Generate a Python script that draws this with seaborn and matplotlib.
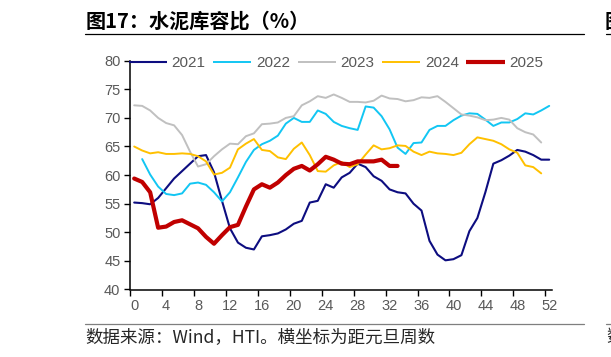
import numpy as np
import pandas as pd
import matplotlib
matplotlib.use("Agg")
import matplotlib.pyplot as plt
from matplotlib.lines import Line2D
import seaborn as sns

# ---------------- data ----------------
series_names = ["2021", "2022", "2023", "2024", "2025"]
tick_labels = [str(v) for v in range(0, 53, 4)]

y2021 = [55.2, 55.1, 54.9, 56.0, 57.7, 59.4, 60.7, 62.0, 63.3, 63.5,
         60.5, 55.5, 50.7, 48.2, 47.3, 47.0, 49.3, 49.5, 49.8, 50.5,
         51.5, 52.0, 55.2, 55.5, 58.4, 57.8, 59.6, 60.4, 62.0, 61.4,
         59.8, 59.0, 57.5, 57.0, 56.8, 55.0, 53.8, 48.5, 46.1, 45.1,
         45.3, 46.0, 50.2, 52.5, 57.0, 62.0, 62.6, 63.4, 64.4, 64.1,
         63.5, 62.7, 62.7]
y2022 = [np.nan, 62.8, 60.1, 58.0, 56.7, 56.5, 56.8, 58.5, 58.7, 58.3,
         57.0, 55.4, 57.0, 59.6, 62.3, 64.4, 65.4, 66.0, 66.9, 69.0,
         70.0, 69.3, 69.3, 71.3, 70.7, 69.3, 68.6, 68.2, 67.9, 72.0,
         71.8, 70.3, 68.0, 64.8, 63.7, 65.6, 65.7, 67.9, 68.6, 68.6,
         69.6, 70.4, 70.8, 70.7, 69.7, 68.6, 69.2, 69.2, 69.8, 70.8,
         70.6, 71.3, 72.1]
y2023 = [72.2, 72.1, 71.3, 70.0, 69.1, 68.7, 67.0, 64.1, 61.5, 61.9,
         63.3, 64.5, 65.5, 65.4, 66.8, 67.3, 68.9, 69.0, 69.2, 70.0,
         70.3, 72.2, 72.9, 73.8, 73.5, 74.1, 73.5, 72.8, 72.8, 72.7,
         73.0, 73.9, 73.4, 73.3, 72.9, 73.1, 73.6, 73.5, 73.8, 72.8,
         71.7, 70.6, 70.4, 70.1, 69.6, 69.7, 70.0, 69.7, 68.2, 67.5,
         67.1, 65.7]
y2024 = [65.0, 64.3, 63.8, 64.0, 63.7, 63.7, 63.8, 63.7, 63.3, 62.4,
         60.1, 60.4, 61.3, 64.5, 65.5, 66.3, 64.4, 64.2, 63.1, 62.8,
         64.6, 65.7, 63.5, 60.7, 60.6, 61.7, 62.3, 61.4, 61.9, 63.6,
         65.2, 64.5, 64.7, 65.2, 65.1, 64.1, 63.5, 64.1, 63.8, 63.7,
         63.5, 63.9, 65.4, 66.6, 66.3, 66.0, 65.4, 64.5, 63.9, 61.7,
         61.4, 60.3]
y2025 = [59.4, 58.8, 57.0, 50.8, 51.0, 51.8, 52.1, 51.4, 50.7, 49.2,
         48.0, 49.5, 50.9, 51.3, 54.5, 57.5, 58.4, 57.8, 58.7, 60.0,
         61.1, 61.6, 60.8, 61.9, 63.2, 62.7, 62.0, 61.9, 62.4, 62.4,
         62.4, 62.7, 61.6, 61.6]

all_values = [y2021, y2022, y2023, y2024, y2025]

# ---------------- styles ----------------
colors = ["#0D0D80", "#12C6F3", "#C0C0C0", "#FFC000", "#C00000"]
widths = [1.5, 1.4, 1.4, 1.4, 3.0]

rows = []
for name, vals in zip(series_names, all_values):
    for w, v in enumerate(vals):
        rows.append({"week": w, "value": v, "year": name})
df = pd.DataFrame(rows)

sns.set_style("ticks")
plt.rcParams["font.family"] = ["Liberation Sans", "Noto Sans CJK SC", "DejaVu Sans"]

W, H = 611, 357
fig = plt.figure(figsize=(W / 100, H / 100), dpi=100)
ax_left, ax_right = 130.2, 552.4
ax_top, ax_bottom = 60.7, 289.5
ax = fig.add_axes([ax_left / W, 1 - ax_bottom / H,
                   (ax_right - ax_left) / W, (ax_bottom - ax_top) / H])

handles = []
for name, col, lw in zip(series_names, colors, widths):
    sub = df[df["year"] == name].dropna()
    sns.lineplot(data=sub, x="week", y="value", ax=ax, color=col,
                 linewidth=lw, solid_capstyle="round", solid_joinstyle="round",
                 legend=False)
    handles.append(Line2D([0], [0], color=col, linewidth=lw, solid_capstyle="butt"))

ax.set_xlim(-0.5, 52.4)
ax.set_ylim(40, 80)
ax.set_xlabel("")
ax.set_ylabel("")

ax.set_yticks(range(40, 81, 5))
ax.set_yticklabels([str(v) for v in range(40, 81, 5)])
ax.set_xticks(np.arange(-0.5, 52, 4))
ax.set_xticklabels([])
ax.set_xticks(np.arange(0, 53, 4), minor=True)
ax.set_xticklabels(tick_labels, minor=True)

ax.tick_params(axis="y", which="major", direction="out", length=4, width=1.0,
               color="black", labelsize=10.5, labelcolor="#595959", pad=3)
ax.tick_params(axis="x", which="major", direction="out", length=4, width=1.0,
               color="black")
ax.tick_params(axis="x", which="minor", length=0, labelsize=10.5,
               labelcolor="#595959", pad=7)

for s in ["top", "right"]:
    ax.spines[s].set_visible(False)
for s in ["left", "bottom"]:
    ax.spines[s].set_linewidth(1.1)
    ax.spines[s].set_color("black")

leg = ax.legend(handles, series_names, loc="center",
                bbox_to_anchor=(336 / W, 1 - 63.3 / H), bbox_transform=fig.transFigure,
                ncol=5, frameon=False, handlelength=2.5, handletextpad=0.3,
                columnspacing=0.5, fontsize=11, labelcolor="#595959",
                borderpad=0, borderaxespad=0)

# title and frame lines
fig.text(86 / W, 1 - 21 / H, "图17：水泥库容比（%）", fontsize=14.5, fontweight="bold",
         family=["Noto Sans CJK SC"], va="center", ha="left", color="black")
fig.add_artist(Line2D([85 / W, 584 / W], [1 - 34 / H, 1 - 34 / H],
                      color="black", linewidth=0.9))
fig.add_artist(Line2D([85 / W, 584 / W], [1 - 324 / H, 1 - 324 / H],
                      color="#7F7F7F", linewidth=0.9))
fig.text(85 / W, 1 - 337 / H, "数据来源：Wind，HTI。横坐标为距元旦周数", fontsize=12.6,
         family=["Noto Sans CJK SC"], va="center", ha="left", color="#262626")

# neighbouring panel slivers at the right edge (cut off in the reference too)
fig.text(605 / W, 1 - 21 / H, "图", fontsize=14.5, fontweight="bold",
         family=["Noto Sans CJK SC"], va="center", ha="left", color="black")
fig.add_artist(Line2D([606 / W, 1.0], [1 - 34 / H, 1 - 34 / H],
                      color="black", linewidth=0.9))
fig.add_artist(Line2D([606 / W, 1.0], [1 - 324 / H, 1 - 324 / H],
                      color="#7F7F7F", linewidth=0.9))
fig.text(606 / W, 1 - 337 / H, "数", fontsize=12.6,
         family=["Noto Sans CJK SC"], va="center", ha="left", color="#262626")

fig.savefig("out.png", dpi=100)
